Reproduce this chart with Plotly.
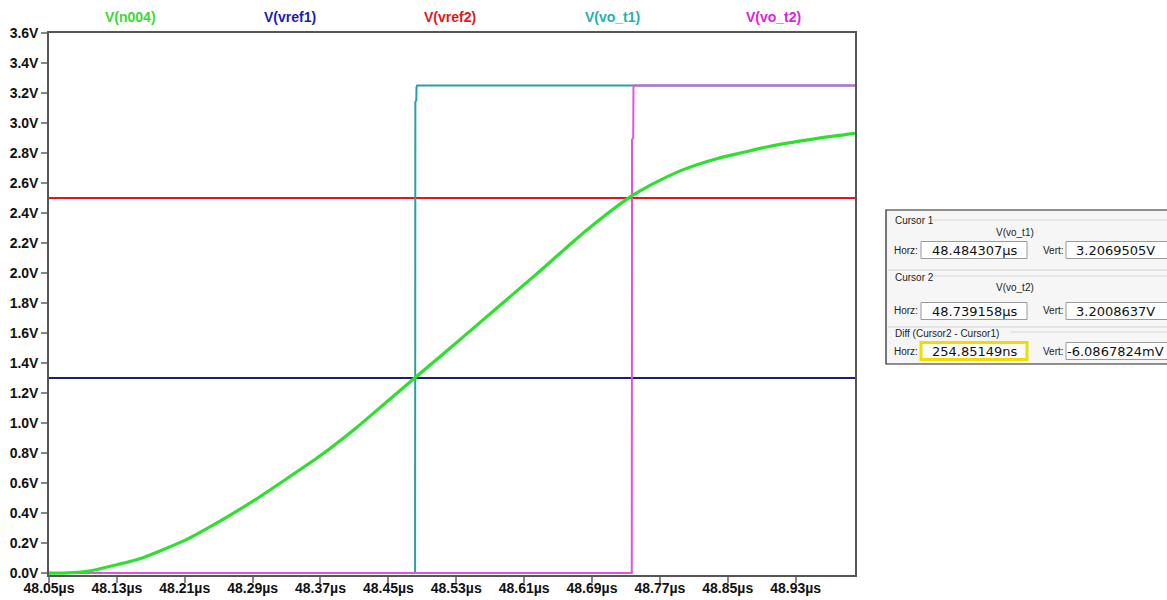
import plotly.graph_objects as go

# ---- waveform data (time in µs, voltage in V) ----
t_n004 = [48.05, 48.065, 48.079, 48.095, 48.13, 48.157, 48.21, 48.236, 48.29, 48.330,
          48.37, 48.413, 48.45, 48.480, 48.543, 48.621, 48.684, 48.7354, 48.7472, 48.7629,
          48.7983, 48.838, 48.869, 48.897, 48.956, 49.0]
v_n004 = [0.0, 0.0, 0.003, 0.012, 0.056, 0.096, 0.218, 0.296, 0.478, 0.629,
          0.784, 0.973, 1.151, 1.295, 1.598, 1.976, 2.287, 2.509, 2.549, 2.598,
          2.691, 2.764, 2.805, 2.842, 2.898, 2.931]

t_ref = [48.05, 49.0]
v_vref1 = [1.3, 1.3]
v_vref2 = [2.5, 2.5]

t_vo_t1 = [48.05, 48.4815, 48.4818, 48.4829, 48.4832, 48.4840, 49.0]
v_vo_t1 = [0.0, 0.0, 3.14, 3.15, 3.24, 3.25, 3.25]

t_vo_t2 = [48.05, 48.7369, 48.7372, 48.7386, 48.7389, 48.7396, 49.0]
v_vo_t2 = [0.0, 0.0, 2.89, 2.90, 3.24, 3.25, 3.25]

x_ticks = [48.05, 48.13, 48.21, 48.29, 48.37, 48.45, 48.53, 48.61, 48.69, 48.77, 48.85, 48.93]
x_tick_labels = ["48.05µs", "48.13µs", "48.21µs", "48.29µs", "48.37µs", "48.45µs",
                 "48.53µs", "48.61µs", "48.69µs", "48.77µs", "48.85µs", "48.93µs"]
y_ticks = [round(0.2 * i, 1) for i in range(19)]
y_tick_labels = [f"{v:.1f}V" for v in y_ticks]

trace_names = ["V(n004)", "V(vref1)", "V(vref2)", "V(vo_t1)", "V(vo_t2)"]
name_colors = ["#3ad83a", "#1c1cb4", "#e01818", "#22b0b0", "#e020e0"]

# cursor readout panel
cursor_rows = [
    ("Cursor 1", "V(vo_t1)", "48.484307µs", "3.2069505V"),
    ("Cursor 2", "V(vo_t2)", "48.739158µs", "3.2008637V"),
    ("Diff (Cursor2 - Cursor1)", None, "254.85149ns", "-6.0867824mV"),
]

# ---- layout geometry ----
W_FIG, H_FIG = 1167, 600
ML, MR, MT, MB = 49, 312, 33, 25
PW = W_FIG - ML - MR
PH = H_FIG - MT - MB


def px(x):
    return (x - ML) / PW


def py(y):
    return (H_FIG - MB - y) / PH


fig = go.Figure()
fig.add_trace(go.Scatter(x=t_ref, y=v_vref1, mode="lines",
                         line=dict(color="#1c1c78", width=2), name="V(vref1)"))
fig.add_trace(go.Scatter(x=t_ref, y=v_vref2, mode="lines",
                         line=dict(color="#e8141c", width=2), name="V(vref2)"))
fig.add_trace(go.Scatter(x=t_vo_t1, y=v_vo_t1, mode="lines",
                         line=dict(color="#2a9fa2", width=2), name="V(vo_t1)"))
fig.add_trace(go.Scatter(x=t_vo_t2, y=v_vo_t2, mode="lines",
                         line=dict(color="#dc55dc", width=2), name="V(vo_t2)"))
fig.add_trace(go.Scatter(x=t_n004, y=v_n004, mode="lines",
                         line=dict(color="#2ee02e", width=3.2, shape="spline", smoothing=0.7),
                         name="V(n004)"))

axis_font = dict(family="Liberation Sans, Arial, sans-serif", size=14, color="#111111", weight="bold")

fig.update_xaxes(range=[48.05, 49.0], tickmode="array", tickvals=x_ticks, ticktext=x_tick_labels,
                 showgrid=False, zeroline=False, showline=True, mirror=True, automargin=False,
                 linecolor="#555555", linewidth=1.5, ticks="outside", ticklen=6,
                 tickcolor="#888888", tickwidth=1.5, tickfont=axis_font, ticklabelstandoff=-7)
fig.update_yaxes(range=[-0.0125, 3.6], tickmode="array", tickvals=y_ticks, ticktext=y_tick_labels,
                 showgrid=False, zeroline=False, showline=True, mirror=True, automargin=False,
                 linecolor="#555555", linewidth=1.5, ticks="outside", ticklen=6,
                 tickcolor="#888888", tickwidth=1.5, tickfont=axis_font)

annotations = []
name_x = [130, 290, 450, 612, 773]
for name, col, xc in zip(trace_names, name_colors, name_x):
    annotations.append(dict(text=name, x=px(xc), y=py(17), xref="paper", yref="paper",
                            showarrow=False, xanchor="center", yanchor="middle",
                            font=dict(family="Liberation Sans, Arial, sans-serif", size=14,
                                      color=col, weight="bold")))

shapes = []
# panel frame
shapes.append(dict(type="rect", xref="paper", yref="paper",
                   x0=px(886), x1=px(1172), y0=py(364), y1=py(210),
                   fillcolor="#f6f6f6", line=dict(color="#222222", width=1.2)))
# group separators
for ys in [270, 327]:
    shapes.append(dict(type="line", xref="paper", yref="paper",
                       x0=px(888), x1=px(1172), y0=py(ys), y1=py(ys),
                       line=dict(color="#cfcfcf", width=1)))
header_y = [221, 277, 333]
header_end = [932, 932, 1010]
row_y = [250, 311, 351]
name_y = [232, 287]
small_font = dict(family="Liberation Sans, Arial, sans-serif", size=10, color="#222222")
value_font = dict(family="DejaVu Sans, sans-serif", size=13, color="#111111")

for i, (hdr, tname, hval, vval) in enumerate(cursor_rows):
    hy = header_y[i]
    shapes.append(dict(type="line", xref="paper", yref="paper",
                       x0=px(header_end[i]), x1=px(1172), y0=py(hy - 1), y1=py(hy - 1),
                       line=dict(color="#d8d8d8", width=1)))
    annotations.append(dict(text=hdr, x=px(893), y=py(hy), xref="paper", yref="paper",
                            showarrow=False, xanchor="left", yanchor="middle", font=small_font))
    if tname:
        annotations.append(dict(text=tname, x=px(1015), y=py(name_y[i]), xref="paper", yref="paper",
                                showarrow=False, xanchor="center", yanchor="middle", font=small_font))
    ry = row_y[i]
    # value boxes
    hb_color = "#f2dc00" if i == 2 else "#9a9a9a"
    hb_width = 3 if i == 2 else 1
    shapes.append(dict(type="rect", xref="paper", yref="paper",
                       x0=px(921), x1=px(1027), y0=py(ry + 8.5), y1=py(ry - 8.5),
                       fillcolor="white", line=dict(color=hb_color, width=hb_width)))
    shapes.append(dict(type="rect", xref="paper", yref="paper",
                       x0=px(1066), x1=px(1180), y0=py(ry + 8.5), y1=py(ry - 8.5),
                       fillcolor="white", line=dict(color="#9a9a9a", width=1)))
    annotations.append(dict(text="Horz:", x=px(892), y=py(ry), xref="paper", yref="paper",
                            showarrow=False, xanchor="left", yanchor="middle", font=small_font))
    annotations.append(dict(text="Vert:", x=px(1041), y=py(ry), xref="paper", yref="paper",
                            showarrow=False, xanchor="left", yanchor="middle", font=small_font))
    annotations.append(dict(text=hval, x=px(975), y=py(ry + 0.5), xref="paper", yref="paper",
                            showarrow=False, xanchor="center", yanchor="middle", font=value_font))
    annotations.append(dict(text=vval, x=px(1115), y=py(ry + 0.5), xref="paper", yref="paper",
                            showarrow=False, xanchor="center", yanchor="middle", font=value_font))

fig.update_layout(width=W_FIG, height=H_FIG,
                  margin=dict(l=ML, r=MR, t=MT, b=MB),
                  plot_bgcolor="white", paper_bgcolor="white",
                  showlegend=False, annotations=annotations, shapes=shapes)

fig.write_html("out.html")
